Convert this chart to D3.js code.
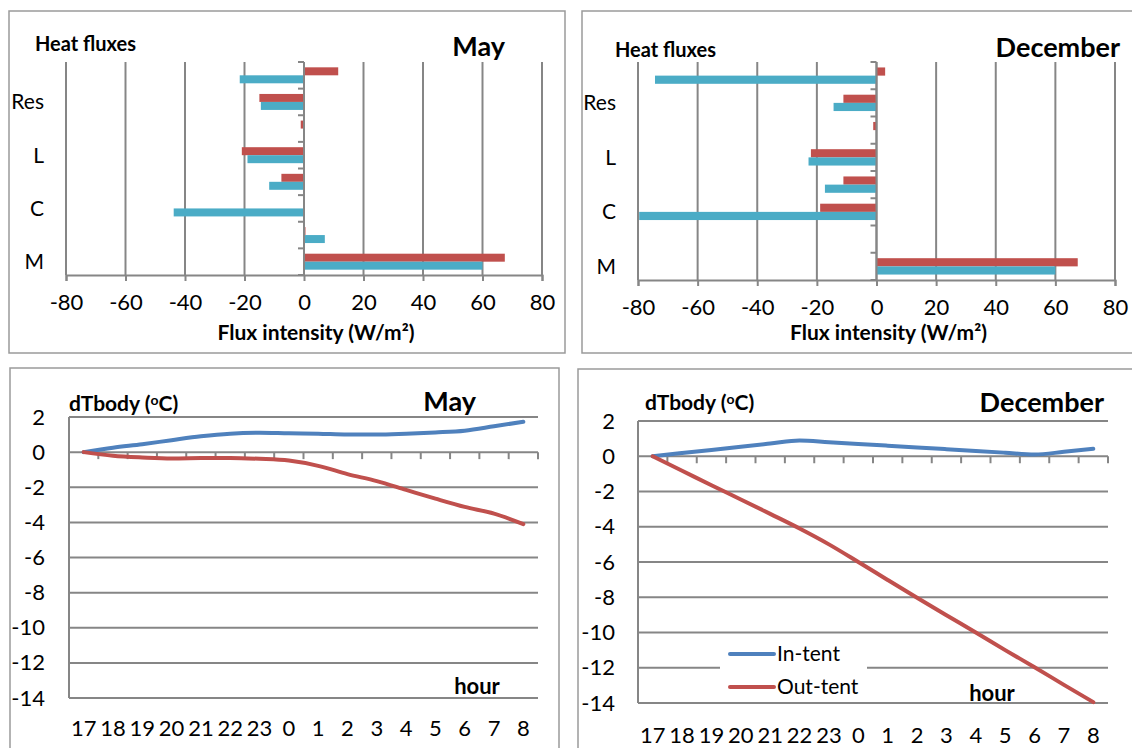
<!DOCTYPE html>
<html>
<head>
<meta charset="utf-8">
<script src="https://cdn.jsdelivr.net/npm/d3@7"></script>
<style>
body { margin: 0; background: #fff; }
text { font-family: Lato, "Open Sans", sans-serif; fill: #000; }
</style>
</head>
<body>
<div id="chart"></div>
<script>
// bar charts: categories bottom to top, only every second one is labelled
const fluxLabels = ["M", "", "C", "", "L", "", "Res", ""];
const mayOut = [67.5, 0.5, 0, -7.6, -20.9, -1.1, -15, 11.5];
const mayIn = [60, 7, -43.8, -11.7, -19, 0, -14.5, -21.6];
const decOut = [67.5, 0, -18.9, -11.1, -22, -1.1, -11.1, 2.9];
const decIn = [60, 0, -79.6, -17.3, -22.8, 0, -14.4, -74.3];
const fluxTicks = [-80, -60, -40, -20, 0, 20, 40, 60, 80];

// line charts
const hours = ["17", "18", "19", "20", "21", "22", "23", "0", "1", "2", "3", "4", "5", "6", "7", "8"];
const mayInTent = [0, 0.25, 0.45, 0.68, 0.9, 1.05, 1.1, 1.07, 1.05, 1.0, 1.0, 1.05, 1.12, 1.22, 1.47, 1.73];
const mayOutTent = [0, -0.2, -0.3, -0.36, -0.34, -0.33, -0.38, -0.48, -0.78, -1.25, -1.65, -2.15, -2.65, -3.12, -3.5, -4.1];
const decInTent = [0, 0.18, 0.36, 0.54, 0.72, 0.9, 0.8, 0.7, 0.6, 0.5, 0.4, 0.3, 0.2, 0.1, 0.25, 0.42];
const decOutTent = [0, -0.82, -1.65, -2.45, -3.27, -4.1, -5.0, -6.0, -7.02, -8.03, -9.02, -10.0, -11.0, -11.97, -12.97, -13.95];
const tempTicks = [2, 0, -2, -4, -6, -8, -10, -12, -14];

const gridColor = "#868686";
const barRed = "#c0504d", barBlue = "#4bacc6";
const lineRed = "#c0504d", lineBlue = "#4f81bd";

const svg = d3.select("#chart")
    .append("svg")
    .attr("width", 1132)
    .attr("height", 748);

svg.append("rect").attr("width", 1132).attr("height", 748).attr("fill", "#fff");

function frame(x, y, w, h) {
    svg.append("rect")
        .attr("x", x).attr("y", y)
        .attr("width", w).attr("height", h)
        .attr("fill", "none")
        .attr("stroke", "#9a9a9a")
        .attr("stroke-width", 1.5);
}

function minus(d) {
    return d < 0 ? "-" + Math.abs(d) : d;
}

function drawBars(cfg) {
    frame(cfg.fx, cfg.fy, cfg.fw, cfg.fh);
    const g = svg.append("g");

    const x = d3.scaleLinear().domain([-80, 80]).range([cfg.x0, cfg.x1]);
    const y = d3.scaleBand().domain(d3.range(fluxLabels.length)).range([cfg.y1, cfg.y0]);
    const bw = y.bandwidth();

    // vertical gridlines
    g.selectAll(".grid")
        .data(fluxTicks)
        .join("line")
        .attr("x1", d => x(d)).attr("x2", d => x(d))
        .attr("y1", cfg.y0).attr("y2", cfg.y1)
        .attr("stroke", gridColor)
        .attr("stroke-width", 2);

    // bottom axis
    const ax = g.append("g")
        .attr("transform", `translate(0,${cfg.y1})`)
        .call(d3.axisBottom(x).tickValues(fluxTicks).tickSize(6).tickPadding(13));
    ax.select(".domain").attr("stroke", gridColor).attr("stroke-width", 2);
    ax.selectAll(".tick line").attr("stroke", gridColor).attr("stroke-width", 2);
    ax.selectAll(".tick text")
        .style("font-size", "22px")
        .style("font-family", "Lato, sans-serif")
        .text(minus);

    // category axis at zero, ticks between categories
    g.selectAll(".ctick")
        .data(d3.range(fluxLabels.length + 1))
        .join("line")
        .attr("x1", x(0) - 6).attr("x2", x(0))
        .attr("y1", i => cfg.y1 - i * y.step())
        .attr("y2", i => cfg.y1 - i * y.step())
        .attr("stroke", gridColor)
        .attr("stroke-width", 2);

    g.selectAll(".clabel")
        .data(fluxLabels)
        .join("text")
        .attr("x", cfg.lx)
        .attr("y", (d, i) => y(i) + bw / 2)
        .attr("dy", "0.35em")
        .attr("text-anchor", "end")
        .style("font-size", "21px")
        .text(d => d);

    // bars: out-tent (red) on top, in-tent (blue) below
    g.selectAll(".barOut")
        .data(cfg.out)
        .join("rect")
        .attr("x", d => x(Math.min(0, d)))
        .attr("width", d => Math.abs(x(d) - x(0)))
        .attr("y", (d, i) => y(i) + bw * 0.2)
        .attr("height", bw * 0.3)
        .attr("fill", barRed);

    g.selectAll(".barIn")
        .data(cfg.inn)
        .join("rect")
        .attr("x", d => x(Math.min(0, d)))
        .attr("width", d => Math.abs(x(d) - x(0)))
        .attr("y", (d, i) => y(i) + bw * 0.5)
        .attr("height", bw * 0.3)
        .attr("fill", barBlue);

    g.append("line")
        .attr("x1", x(0)).attr("x2", x(0))
        .attr("y1", cfg.y0).attr("y2", cfg.y1)
        .attr("stroke", gridColor)
        .attr("stroke-width", 2);

    g.append("text")
        .attr("x", cfg.hx).attr("y", cfg.hy)
        .attr("dy", "0.35em")
        .style("font-size", "20px").style("font-weight", "bold")
        .text("Heat fluxes");

    g.append("text")
        .attr("x", cfg.tx).attr("y", cfg.ty)
        .attr("dy", "0.35em")
        .attr("text-anchor", "end")
        .style("font-size", "27px").style("font-weight", "bold")
        .text(cfg.title);

    g.append("text")
        .attr("x", x(0) + 12).attr("y", 333)
        .attr("dy", "0.35em")
        .attr("text-anchor", "middle")
        .style("font-size", "21px").style("font-weight", "bold")
        .text("Flux intensity (W/m²)");
}

function drawLines(cfg) {
    frame(cfg.fx, cfg.fy, cfg.fw, cfg.fh);
    const g = svg.append("g");

    const x = d3.scalePoint().domain(hours).range([cfg.x0, cfg.x1]).padding(0.5);
    const y = d3.scaleLinear().domain([-14, 2]).range([cfg.y1, cfg.y0]);

    g.selectAll(".grid")
        .data(tempTicks)
        .join("line")
        .attr("x1", cfg.x0).attr("x2", cfg.x1)
        .attr("y1", d => y(d)).attr("y2", d => y(d))
        .attr("stroke", gridColor)
        .attr("stroke-width", 2);

    g.append("line")
        .attr("x1", cfg.x0).attr("x2", cfg.x0)
        .attr("y1", cfg.y0).attr("y2", cfg.y1)
        .attr("stroke", gridColor)
        .attr("stroke-width", 2);

    // category tick marks on the zero line, between hours
    g.selectAll(".htick")
        .data(d3.range(1, hours.length + 1))
        .join("line")
        .attr("x1", i => cfg.x0 + i * x.step())
        .attr("x2", i => cfg.x0 + i * x.step())
        .attr("y1", y(0)).attr("y2", y(0) + 7)
        .attr("stroke", gridColor)
        .attr("stroke-width", 2);

    const ay = g.append("g")
        .attr("transform", `translate(${cfg.x0},0)`)
        .call(d3.axisLeft(y).tickValues(tempTicks).tickSize(0).tickPadding(cfg.x0 - cfg.yr));
    ay.select(".domain").remove();
    ay.selectAll(".tick text")
        .style("font-size", "22px")
        .style("font-family", "Lato, sans-serif")
        .text(minus);

    g.selectAll(".hlabel")
        .data(hours)
        .join("text")
        .attr("x", d => x(d))
        .attr("y", cfg.ly)
        .attr("dy", "0.35em")
        .attr("text-anchor", "middle")
        .style("font-size", "22px")
        .text(d => d);

    const line = d3.line()
        .x((d, i) => x(hours[i]))
        .y(d => y(d))
        .curve(d3.curveMonotoneX);

    g.append("path").attr("d", line(cfg.inn))
        .attr("fill", "none").attr("stroke", lineBlue)
        .attr("stroke-width", 4).attr("stroke-linecap", "round");
    g.append("path").attr("d", line(cfg.out))
        .attr("fill", "none").attr("stroke", lineRed)
        .attr("stroke-width", 4).attr("stroke-linecap", "round");

    const yl = g.append("text")
        .attr("x", cfg.ylx).attr("y", cfg.yly)
        .attr("dy", "0.35em")
        .style("font-size", "21px").style("font-weight", "bold");
    yl.append("tspan").text("dTbody (");
    yl.append("tspan").text("o").attr("dy", "-0.45em").style("font-size", "14px");
    yl.append("tspan").text("C)").attr("dy", "0.3em");

    g.append("text")
        .attr("x", cfg.tx).attr("y", cfg.ty)
        .attr("dy", "0.35em")
        .attr("text-anchor", "end")
        .style("font-size", "27px").style("font-weight", "bold")
        .text(cfg.title);

    g.append("text")
        .attr("x", cfg.hx).attr("y", cfg.hy)
        .attr("dy", "0.35em")
        .attr("text-anchor", "middle")
        .style("font-size", "22px").style("font-weight", "bold")
        .text("hour");

    if (cfg.legend) {
        const lg = g.append("g");
        lg.append("rect")
            .attr("x", 720).attr("y", 639)
            .attr("width", 147).attr("height", 62)
            .attr("fill", "#fff");
        const items = [["In-tent", lineBlue, 654], ["Out-tent", lineRed, 687]];
        items.forEach(([name, col, ly]) => {
            lg.append("line")
                .attr("x1", 730).attr("x2", 774)
                .attr("y1", ly).attr("y2", ly)
                .attr("stroke", col).attr("stroke-width", 4)
                .attr("stroke-linecap", "round");
            lg.append("text")
                .attr("x", 777).attr("y", ly)
                .attr("dy", "0.35em")
                .style("font-size", "21px")
                .text(name);
        });
    }
}

drawBars({
    fx: 9, fy: 11, fw: 556, fh: 342,
    x0: 66, x1: 542, y0: 62, y1: 275, lx: 44,
    hx: 35, hy: 44, tx: 505, ty: 47,
    title: "May", out: mayOut, inn: mayIn
});

drawBars({
    fx: 582, fy: 11, fw: 560, fh: 342,
    x0: 638, x1: 1115, y0: 62, y1: 280, lx: 616,
    hx: 615, hy: 50, tx: 1120, ty: 48,
    title: "December", out: decOut, inn: decIn
});

drawLines({
    fx: 10, fy: 368, fw: 549, fh: 385,
    x0: 69, x1: 538, y0: 417, y1: 698, yr: 45,
    ly: 728, ylx: 69, yly: 404, tx: 476, ty: 402,
    hx: 477, hy: 686,
    title: "May", out: mayOutTent, inn: mayInTent, legend: false
});

drawLines({
    fx: 578, fy: 369, fw: 560, fh: 385,
    x0: 638, x1: 1108, y0: 421, y1: 703, yr: 615,
    ly: 735, ylx: 645, yly: 403, tx: 1104, ty: 403,
    hx: 992, hy: 693,
    title: "December", out: decOutTent, inn: decInTent, legend: true
});
</script>
</body>
</html>
